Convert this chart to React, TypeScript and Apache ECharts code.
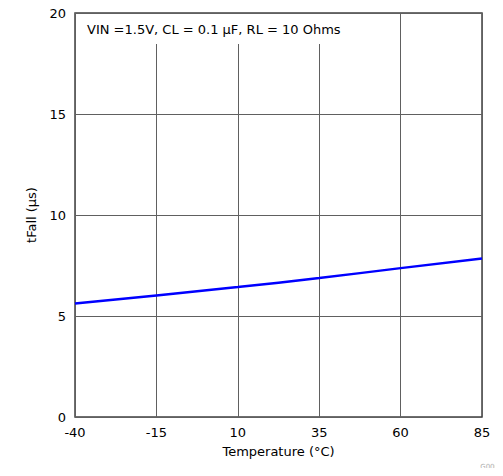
import React, { useEffect, useRef } from "react";
import * as echarts from "echarts";

const temperatures = [-40, -15, 10, 35, 60, 85];
const tFall = [5.62, 6.02, 6.43, 6.88, 7.37, 7.85];
const xTicks = [-40, -15, 10, 35, 60, 85];
const yTicks = [0, 5, 10, 15, 20];
const annotation = "VIN =1.5V, CL = 0.1 µF, RL = 10 Ohms";

export default function App() {
  const ref = useRef<HTMLDivElement>(null);
  useEffect(() => {
    if (!ref.current) return;
    const chart = echarts.init(ref.current, null, { renderer: "svg" });
    const font = "'DejaVu Sans', sans-serif";
    const fs = 13;
    chart.setOption({
      animation: false,
      backgroundColor: "#ffffff",
      grid: { left: 75, right: 21, top: 13, bottom: 59, containLabel: false, show: true, borderColor: "#404040", borderWidth: 1.5 },
      xAxis: {
        type: "value",
        min: xTicks[0],
        max: xTicks[xTicks.length - 1],
        interval: 25,
        name: "Temperature (°C)",
        nameLocation: "middle",
        nameGap: 28,
        nameTextStyle: { color: "#000", fontFamily: font, fontSize: fs },
        axisLine: { show: false },
        axisTick: { show: false },
        axisLabel: { color: "#000", fontFamily: font, fontSize: fs, margin: 9 },
        splitLine: { show: true, lineStyle: { color: "#606060", width: 1 } },
      },
      yAxis: {
        type: "value",
        min: yTicks[0],
        max: yTicks[yTicks.length - 1],
        interval: 5,
        name: "tFall (µs)",
        nameLocation: "middle",
        nameGap: 37,
        nameTextStyle: { color: "#000", fontFamily: font, fontSize: fs },
        axisLine: { show: false },
        axisTick: { show: false },
        axisLabel: { color: "#000", fontFamily: font, fontSize: fs, margin: 9 },
        splitLine: { show: true, lineStyle: { color: "#606060", width: 1 } },
      },
      graphic: [
        { type: "rect", z: 1, shape: { x: 76, y: 14, width: 272, height: 30 }, style: { fill: "#ffffff" } },
        { type: "text", z: 2, left: 87, top: 23, style: { text: annotation, fill: "#000", font: `${fs}px ${font}` } },
        { type: "text", z: 2, right: 4, bottom: 6, style: { text: "G000", fill: "#b0b0b0", font: `7px ${font}` } },
      ],
      series: [
        {
          type: "line",
          z: 3,
          data: temperatures.map((t, i) => [t, tFall[i]]),
          showSymbol: false,
          smooth: true,
          lineStyle: { color: "#0000ff", width: 2.5 },
        },
      ],
    });
    return () => chart.dispose();
  }, []);
  return <div ref={ref} style={{ width: 503, height: 476, margin: -8 }} />;
}
